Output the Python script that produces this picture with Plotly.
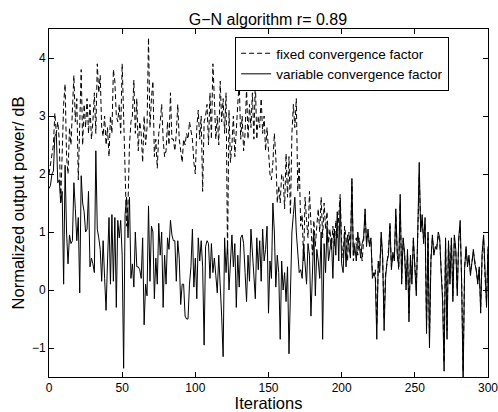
import plotly.graph_objects as go

iterations = list(range(301))

fixed_factor = [
    2.0, 2.2, 2.3, 2.5, 3.05, 2.7, 2.9, 2.6, 1.5, 2.5,
    3.2, 3.55, 2.3, 2.0, 2.8, 2.5, 3.0, 3.7, 2.9, 3.3,
    1.9, 3.0, 3.8, 2.5, 3.2, 2.8, 3.3, 2.7, 3.2, 2.6,
    2.9, 3.4, 2.7, 3.9, 3.4, 3.7, 2.8, 2.65, 3.0, 2.5,
    2.8, 2.3, 3.0, 2.7, 3.8, 3.6, 3.0, 2.9, 3.2, 2.7,
    3.9, 3.0, 1.9, 1.1, 1.5, 2.5, 2.9, 3.0, 3.62, 2.7,
    3.3, 2.4, 2.9, 2.7, 2.2, 3.0, 2.5, 2.8, 4.35, 2.8,
    3.3, 3.6, 2.3, 2.6, 2.1, 2.7, 2.9, 3.2, 2.6, 2.3,
    2.4, 2.9, 2.5, 3.4, 2.6, 2.6, 2.4, 2.7, 3.2, 2.6,
    2.4, 2.2, 2.6, 2.5, 2.7, 2.6, 2.9, 2.7, 2.6, 2.2,
    2.0, 2.8, 3.1, 2.6, 3.0, 1.7, 2.9, 3.0, 3.2, 2.5,
    3.4, 2.6, 3.9, 3.3, 2.6, 3.0, 2.5, 3.6, 2.9, 3.3,
    2.7, 3.4, 0.6, 3.1, 2.2, 2.5, 3.0, 2.3, 2.9, 3.2,
    3.6, 2.6, 3.0, 2.4, 2.7, 3.5, 2.6, 3.2, 2.8, 3.4,
    2.6, 3.6, 2.6, 3.0, 2.8, 3.3, 2.7, 3.0, 2.4, 2.8,
    2.4, 2.0, 1.9, 2.2, 2.7, 2.3, 1.5, 1.8, 1.5, 2.0,
    1.95, 1.4, 2.35, 1.6, 2.3, 1.3, 2.7, 3.2, 2.8, 3.3,
    1.7, 2.2, 1.1, 1.3, 0.5, 1.6, 1.2, 0.9, 1.7, 1.0,
    0.6, 1.2, 0.75, 1.1, 1.4, 1.0, 1.6, 0.9, 1.5, 1.05,
    1.35, 0.8, 1.05, 0.7, 1.1, 0.75, 1.2, 0.9, 1.3, 1.65,
    0.8, 0.55, 1.1, 0.9, 0.5, 1.0, 0.7, 1.95, 0.5, 0.8,
    0.9, 0.6, 0.9, 0.7, 0.5, 0.85, 1.3, 0.85, 0.95, 0.8,
    0.85, 0.3, 0.25, 0.35, -0.6, 0.45, 0.4, 0.9, 0.55, -0.5,
    0.3, 0.45, 0.7, 1.1, 0.4, 0.6, 0.55, 1.3, 0.65, 0.35,
    1.5, 0.2, 0.85, 0.6, 0.1, 0.65, -0.4, 0.55, 0.2, 0.85,
    0.45, 0.0, 0.95, 2.0, 1.05, 1.2, 0.85, 1.15, -0.6, 0.9,
    -0.85, 0.55, 0.9, 0.65, 0.7, 0.75, 0.95, 0.85, 0.35, -0.1,
    -1.25, 0.85, -0.7, 0.8, 0.2, 0.85, -0.1, 0.9, 0.65, 0.0,
    0.85, 1.1, 0.15, -1.4, 0.4, 0.7, 0.45, 0.55, 0.3, 0.45,
    0.65, 0.5, 0.3, 0.15, 0.35, -0.3, 0.6, 0.9, 0.2, -0.2,
    0.7,
]

variable_factor = [
    1.75, 1.8, 2.0, 2.05, 2.65, 2.7, 1.85, 1.9, 1.5, 1.7,
    0.1, 2.15, 1.0, 0.45, 0.95, 0.8, 0.85, 1.85, 1.4, 0.85,
    1.25, -0.05, 1.97, 1.5, 1.35, 1.0, 1.05, 1.7, 0.4, 0.55,
    0.45, 0.3, 2.4, 1.05, 0.9, 0.7, 0.15, 0.85, 0.2, -0.35,
    0.5, 1.25, 0.1, 1.3, 0.15, 1.25, -0.3, 1.2, 0.9, 1.2,
    0.6, -1.35, 1.3, 1.6, 0.9, 1.6, 0.2, 0.45, 0.05, 1.0,
    0.4, 0.4, 0.35, 0.2, 0.9, -0.6, 0.1, -0.1, 1.45, 0.15,
    1.1, 1.0, -0.15, 0.55, 0.1, 1.15, 0.6, 1.0, -0.3, 0.6,
    0.1, 0.9, 0.7, 1.2, 0.95, 0.85, 0.85, 0.15, 0.85, 0.55,
    -0.25, 0.1, 0.1, -0.45, -0.5, -0.5, 0.1, 0.4, 1.05, 0.05,
    0.55, -0.15, 0.9, 0.5, 0.85, 0.4, -0.95, 0.75, 0.85, 0.8,
    0.2, 0.8, 0.3, 0.55, 0.25, -0.05, 0.6, 0.15, -0.45, -1.15,
    0.9, 0.3, 0.8, 0.0, 0.5, 0.95, 0.4, 0.8, -0.3, 0.6,
    0.05, 0.9, 0.95, 0.8, 0.3, -0.2, 0.6, 0.15, 1.05, 0.7,
    0.3, -0.15, 0.9, 0.35, 0.85, 0.15, 1.05, 0.5, 0.7, 1.1,
    -0.4, 0.5, 0.2, 1.5, 1.0, 0.05, 0.6, 0.3, -0.85, 0.5,
    0.0, 0.3, -0.2, 0.4, -1.1, 0.0, 1.0, 1.3, 1.6, 1.0,
    0.6, 0.3, 0.35, 0.2, 0.8, 0.5, 0.1, 0.8, 0.6, -0.45,
    0.3, 1.0, -0.1, 0.7, 0.5, 0.2, 1.0, -0.85, 0.8, 0.3,
    1.1, 0.5, 0.7, 0.9, 0.2, 1.05, 0.6, 1.35, 0.5, 1.55,
    0.45, 0.3, 1.0, 0.4, 0.95, 0.7, 0.55, 1.85, 0.6, 0.75,
    0.5, 1.0, 0.8, 0.55, 0.8, 0.9, 1.4, 0.75, 1.05, 0.75,
    0.9, 0.2, 0.3, 0.2, -0.85, 0.5, 0.3, 1.0, 0.6, -0.7,
    0.2, 0.5, 0.6, 1.15, 0.35, 0.65, 0.5, 1.4, 0.6, 0.4,
    1.65, 0.1, 0.9, 0.65, 0.0, 0.7, -0.55, 0.6, 0.1, 0.9,
    0.4, -0.1, 1.0, 2.2, 1.0, 1.3, 0.8, 1.25, -0.75, 1.0,
    -1.0, 0.5, 0.95, 0.6, 0.75, 0.7, 1.0, 0.9, 0.3, -0.2,
    -1.4, 0.9, -0.85, 0.85, 0.1, 0.9, -0.2, 0.95, 0.7, -0.1,
    0.9, 1.2, 0.1, -1.6, 0.35, 0.75, 0.4, 0.6, 0.25, 0.5,
    0.7, 0.45, 0.35, 0.1, 0.4, -0.4, 0.65, 0.95, 0.15, -0.3,
    0.75,
]

x_ticks = [0, 50, 100, 150, 200, 250, 300]
y_ticks = [-1, 0, 1, 2, 3, 4]

font_family = "Liberation Sans, Arial, sans-serif"

fig = go.Figure()
fig.add_trace(go.Scatter(x=iterations, y=fixed_factor, mode="lines", name="fixed convergence factor",
                         line=dict(color="black", width=1, dash="5px,3px")))
fig.add_trace(go.Scatter(x=iterations, y=variable_factor, mode="lines", name="variable convergence factor",
                         line=dict(color="black", width=1)))

axis_style = dict(showline=True, linecolor="black", linewidth=1, mirror="ticks", ticks="inside",
                  ticklen=5, tickcolor="black", showgrid=False, zeroline=False, automargin=False,
                  ticklabeloverflow="allow", tickfont=dict(size=12, color="black"))

fig.update_layout(
    width=498, height=412, template="simple_white",
    font=dict(family=font_family, color="black"),
    title=dict(text="G\u2212N algorithm r= 0.89", x=0.538, xanchor="center", y=0.954, yanchor="middle",
               font=dict(size=16)),
    xaxis=dict(range=[0, 300], tickvals=x_ticks,
               title=dict(text="Iterations", font=dict(size=16.5), standoff=4), **axis_style),
    yaxis=dict(range=[-1.5, 4.5], tickvals=y_ticks,
               title=dict(text="Normalized output power/ dB", font=dict(size=16.5), standoff=3), **axis_style),
    legend=dict(x=0.424, y=0.977, xanchor="left", yanchor="top", bgcolor="white", bordercolor="black",
                borderwidth=1, font=dict(size=13.5), tracegroupgap=0),
    margin=dict(l=49, r=10, t=29, b=35),
    plot_bgcolor="white", paper_bgcolor="white",
)

# the page's default body margin would shift the figure 8px right and down
fig.write_html("out.html", config={"displayModeBar": False},
               post_script="document.body.style.margin = '0';")
